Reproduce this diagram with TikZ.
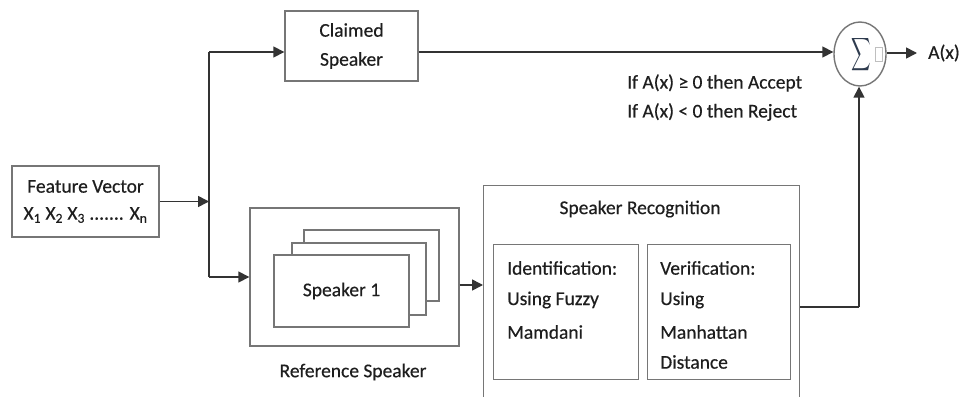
\documentclass[tikz,border=0pt]{standalone}
\usepackage{fontspec}
\usepackage{graphicx}
\setmainfont[FakeBold=0.4]{Carlito}
\usetikzlibrary{arrows.meta,shapes.geometric}
\definecolor{txt}{HTML}{1E1E1E}
\definecolor{boxline}{HTML}{767676}
\definecolor{conline}{HTML}{333333}
\definecolor{sigcol}{HTML}{2E3B4E}
\tikzset{
  box/.style={draw=boxline, line width=1.4pt, fill=white, rectangle, inner sep=0pt, text=txt},
  conn/.style={draw=conline, line width=1.6pt, -{Triangle[length=11pt,width=11pt]}},
  plain/.style={draw=conline, line width=1.6pt},
  lbl/.style={text=txt, inner sep=0pt, font=\fontsize{19.5}{28}\selectfont},
}
\begin{document}
\begin{tikzpicture}[x=1pt,y=-1pt]
\clip (0,0) rectangle (963,396);
\fill[white] (0,0) rectangle (963,396);

% Feature vector
\node[box, minimum width=147pt, minimum height=71pt, align=center, font=\fontsize{19.5}{27}\selectfont] (fv) at (85.5,201.5)
  {Feature Vector\\X\textsubscript{1} X\textsubscript{2} X\textsubscript{3} ....... X\textsubscript{n}};

% Claimed speaker
\node[box, minimum width=133pt, minimum height=70pt, align=center, font=\fontsize{19.5}{29}\selectfont] (cs) at (351.5,46)
  {Claimed\\Speaker};

% Reference speaker group
\node[box, minimum width=209pt, minimum height=138pt] (ref) at (354.5,277) {};
\node[box, minimum width=135pt, minimum height=71pt] (spk3) at (371.5,265.5) {};
\node[box, minimum width=134pt, minimum height=72pt] (spk2) at (359,279) {};
\node[box, minimum width=135pt, minimum height=72pt, font=\fontsize{19.5}{24}\selectfont] (spk1) at (341.5,291) {Speaker 1};
\node[lbl] (reflbl) at (353,372) {Reference Speaker};

% Speaker recognition
\node[box, minimum width=316pt, minimum height=225pt, anchor=north west] (srec) at (483,185) {};
\node[lbl] (sreclbl) at (640,209) {Speaker Recognition};
\node[box, minimum width=145pt, minimum height=135pt, anchor=north west] (ident) at (493,244) {};
\node[box, minimum width=143pt, minimum height=135pt, anchor=north west] (verif) at (647,244) {};
\node[lbl, anchor=west] (id1) at (507,268) {Identification:};
\node[lbl, anchor=west] (id2) at (507,300) {Using Fuzzy};
\node[lbl, anchor=west] (id3) at (507,332) {Mamdani};
\node[lbl, anchor=west] (vf1) at (660,268) {Verification:};
\node[lbl, anchor=west] (vf2) at (660,300) {Using};
\node[lbl, anchor=west] (vf3) at (660,332) {Manhattan};
\node[lbl, anchor=west] (vf4) at (660,362) {Distance};

% Summation
\node[draw=boxline, line width=1.4pt, ellipse, minimum width=52pt, minimum height=64pt, inner sep=0pt] (sum) at (860,54) {};
\node[text=sigcol, inner sep=0pt] (sig) at (861.5,55) {\scalebox{1.35}[2.3]{$\displaystyle\sum$}};
\node[draw=black!25, line width=0.8pt, minimum width=7pt, minimum height=14pt, inner sep=0pt] (sq) at (878.5,54.5) {};
\node[lbl, anchor=west] (ax) at (928,53) {A(x)};
\coordinate (axend) at (917,53);

% Decision text
\node[lbl, anchor=west] (rule1) at (627,83) {If A(x) ≥ 0 then Accept};
\node[lbl, anchor=west] (rule2) at (627,112) {If A(x) < 0 then Reject};

% Connectors
\coordinate (splittop) at (209,52);
\coordinate (splitbot) at (209,277);
\coordinate (turn) at (859,307);
\draw[plain] (splittop) -- (splitbot);
\draw[conn] (fv.east) -- (fv.east -| splittop);
\draw[conn] (splittop) -- (splittop -| cs.west);
\draw[conn] (splitbot) -- (splitbot -| ref.west);
\draw[conn] (splittop -| cs.east) -- (sum.west |- splittop);
\draw[conn] ([yshift=-8pt]ref.east) -- ([yshift=-8pt]ref.east -| srec.west);
\draw[plain] (turn -| srec.east) -- (turn);
\draw[conn] (turn) -- (turn |- sum.south);
\draw[conn] (sum.east |- axend) -- (axend);
\end{tikzpicture}
\end{document}
